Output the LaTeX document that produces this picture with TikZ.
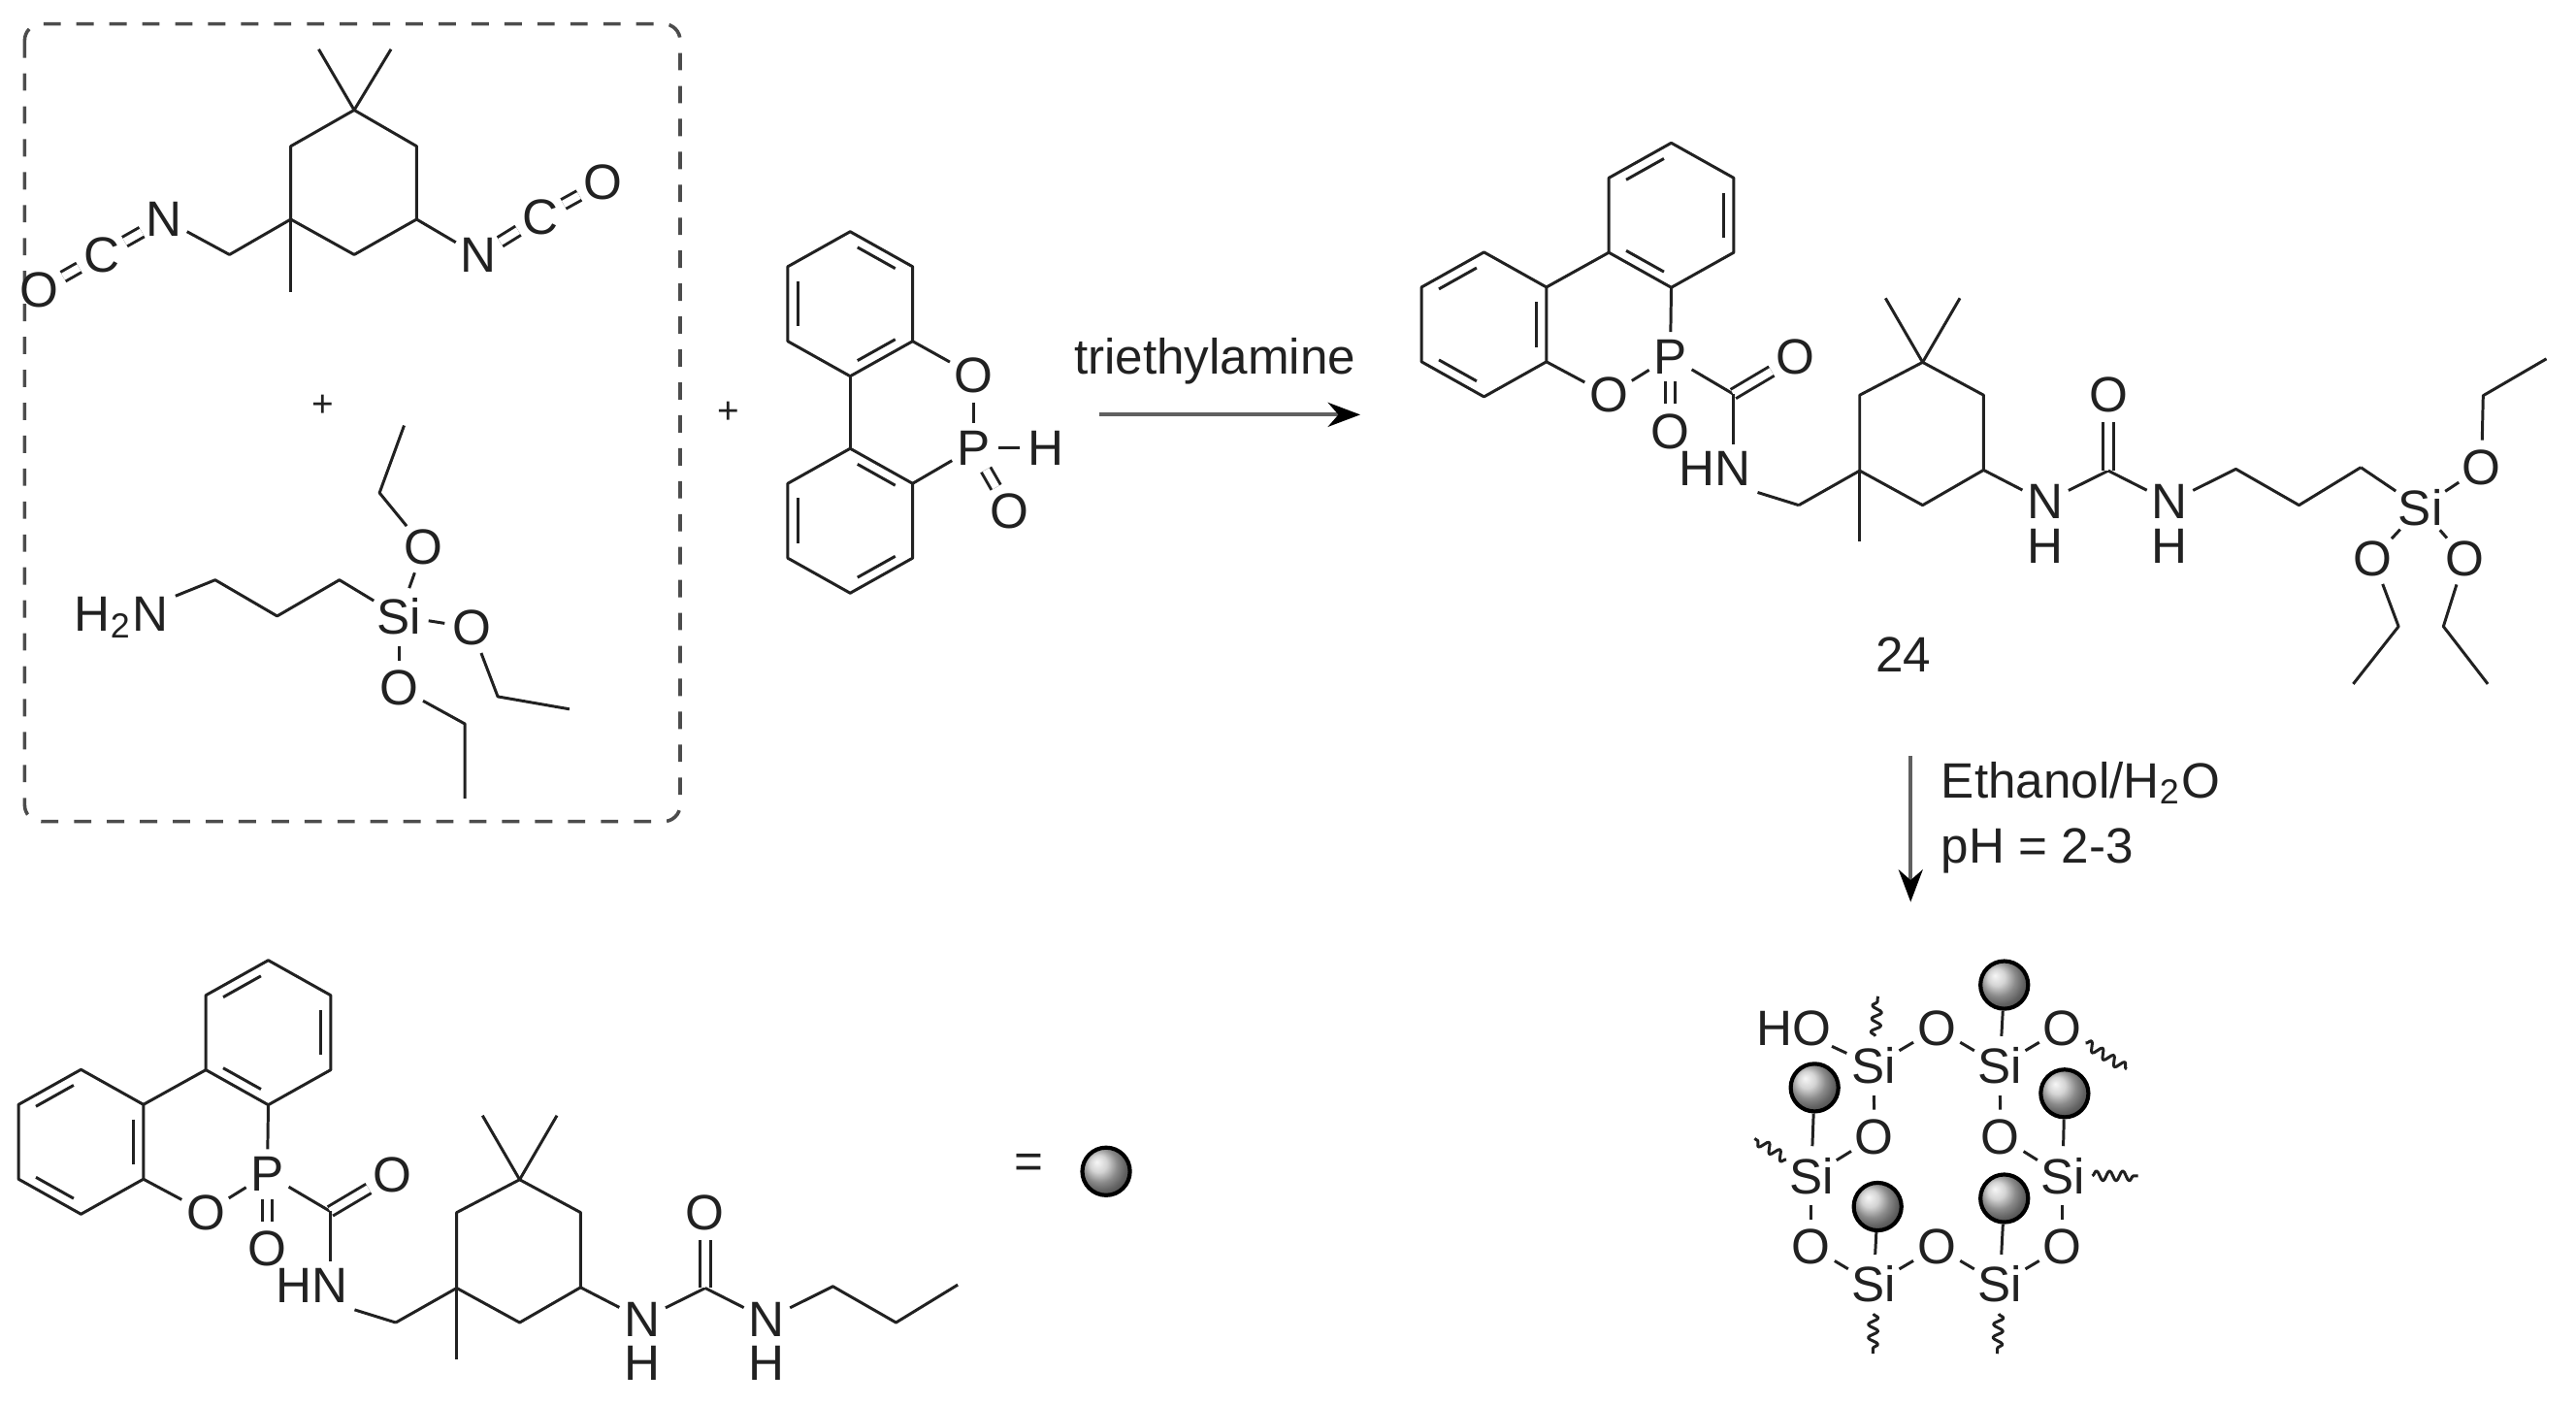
\documentclass[tikz,border=0pt]{standalone}
\usepackage{fontspec}
\setmainfont{Liberation Sans}
\usetikzlibrary{calc,arrows.meta,decorations.pathmorphing}
\definecolor{ink}{gray}{0.13}
\tikzset{
	bond/.style={draw=ink,line width=0.5pt,line join=round},
	dblbond/.style={bond,double=white,double distance=1.3pt},
	wavy/.style={bond,decorate,decoration={snake,amplitude=0.3mm,segment length=0.8mm}},
	atom/.style={circle,inner sep=0pt,text=ink,font=\fontsize{8.6pt}{10pt}\selectfont},
	label/.style={rectangle,inner sep=1pt,text=ink,font=\fontsize{8.6pt}{10pt}\selectfont},
	plus/.style={rectangle,inner sep=0pt,text=ink,font=\fontsize{6.5pt}{8pt}\selectfont},
	sphere/.style={circle,draw=black,line width=0.7pt,inner sep=0pt,minimum size=0.29cm,shading=ball,ball color=gray!45},
	rxn/.style={draw=gray!75!black,line width=0.65pt,-{Stealth[length=5.6pt,width=4.2pt,black]}}
}
\newcommand{\benzring}[2]{
	\begin{scope}[shift={(#2)}]
		\coordinate (#1) at (0,0);
		\coordinate (#1-1) at (0,-44);
		\coordinate (#1-2) at (38,-22.7);
		\coordinate (#1-3) at (38,22.7);
		\coordinate (#1-4) at (0,44);
		\coordinate (#1-5) at (-38,22.7);
		\coordinate (#1-6) at (-38,-22.7);
	\end{scope}
	\draw[bond] (#1-1) -- (#1-2) -- (#1-3) -- (#1-4) -- (#1-5) -- (#1-6) -- cycle;
}
\newcommand{\innerbond}[3]{
	\draw[bond] ($(#1-#2)!.14!(#1-#3)!.16!(#1)$) -- ($(#1-#3)!.14!(#1-#2)!.16!(#1)$);
}
\newcommand{\hybridunit}{
	\benzring{ra}{163.3,628.5}
	\benzring{rb}{49.3,695}
	\innerbond{ra}{1}{6}
	\innerbond{ra}{2}{3}
	\innerbond{ra}{4}{5}
	\innerbond{rb}{1}{6}
	\innerbond{rb}{2}{3}
	\innerbond{rb}{4}{5}
	\node[atom] (p) at (162.7,714.7) {P};
	\node[atom] (oa) at (125.2,738) {O};
	\node[atom] (ob) at (162.7,760) {O};
	\node[atom] (oc) at (238.6,715) {O};
	\node[label] (hn) at (189.8,782.6) {HN};
	\coordinate (ca) at (201,737.3);
	\coordinate (ch) at (240.9,805);
	\coordinate (q) at (278,784);
	\coordinate (s1) at (278,738);
	\coordinate (s2) at (316.3,718);
	\coordinate (s3) at (353.4,738);
	\coordinate (s4) at (353.4,783.6);
	\coordinate (s5) at (316.3,805);
	\coordinate (me1) at (293.7,679);
	\coordinate (me2) at (339,679);
	\coordinate (me3) at (278,827.3);
	\node[atom] (n1) at (391,803) {N};
	\node[atom] (h1) at (391,830) {H};
	\coordinate (cu) at (429.3,784);
	\node[atom] (ou) at (429.3,738) {O};
	\node[atom] (n2) at (466.8,803) {N};
	\node[atom] (h2) at (466.8,830) {H};
	\coordinate (c1) at (507,783);
	\coordinate (c2) at (545.4,805);
	\coordinate (c3) at (583,782);
	\draw[bond] (ra-5) -- (rb-2);
	\draw[bond] (ra-4) -- (p);
	\draw[bond] (rb-3) -- (oa);
	\draw[bond] (oa) -- (p);
	\draw[dblbond] (p) -- (ob);
	\draw[bond] (p) -- (ca);
	\draw[dblbond] (ca) -- (oc);
	\draw[bond] (ca) -- (ca |- hn.north);
	\draw[bond] (hn.south east) -- (ch);
	\draw[bond] (ch) -- (q) -- (s1) -- (s2) -- (s3) -- (s4) -- (s5) -- (q);
	\draw[bond] (q) -- (me3);
	\draw[bond] (s2) -- (me1);
	\draw[bond] (s2) -- (me2);
	\draw[bond] (s4) -- (n1);
	\draw[bond] (n1) -- (cu);
	\draw[dblbond] (cu) -- (ou);
	\draw[bond] (cu) -- (n2);
	\draw[bond] (n2) -- (c1) -- (c2) -- (c3);
}
\begin{document}
\begin{tikzpicture}[x=0.01cm,y=-0.01cm]
	\useasboundingbox (0,0) rectangle (1568,855);
	\draw[draw=black!70,line width=0.6pt,dash pattern=on 3pt off 2.7pt,rounded corners=0.1cm] (15,14.6) rectangle (414,500);
	% isocyanate
	\coordinate (i1) at (215.6,67);
	\coordinate (i2) at (253.6,89);
	\coordinate (i3) at (253.6,133.5);
	\coordinate (i4) at (215.6,155);
	\coordinate (i5) at (177,133.5);
	\coordinate (i6) at (177,89);
	\coordinate (ime1) at (194,30);
	\coordinate (ime2) at (238,30);
	\coordinate (ime3) at (177,178);
	\coordinate (ich) at (139.7,155);
	\node[atom] (in1) at (100,133.5) {N};
	\node[atom] (ic1) at (62,155) {C};
	\node[atom] (io1) at (24,176.6) {O};
	\node[atom] (in2) at (291,155.5) {N};
	\node[atom] (ic2) at (329,132) {C};
	\node[atom] (io2) at (367,111) {O};
	\draw[bond] (i1) -- (i2) -- (i3) -- (i4) -- (i5) -- (i6) -- cycle;
	\draw[bond] (i1) -- (ime1);
	\draw[bond] (i1) -- (ime2);
	\draw[bond] (i5) -- (ime3);
	\draw[bond] (i5) -- (ich) -- (in1);
	\draw[dblbond] (in1) -- (ic1);
	\draw[dblbond] (ic1) -- (io1);
	\draw[bond] (i3) -- (in2);
	\draw[dblbond] (in2) -- (ic2);
	\draw[dblbond] (ic2) -- (io2);
	\node[plus] (plusa) at (196.6,247) {+};
	% aminosilane
	\node[label] (nh) at (74,376) {H\textsubscript{2}N};
	\coordinate (a1) at (131,353);
	\coordinate (a2) at (168.7,375);
	\coordinate (a3) at (206.6,353);
	\node[atom] (asi) at (243,375) {Si};
	\node[atom] (ao1) at (258,333) {O};
	\coordinate (ae1) at (231,300);
	\coordinate (ae2) at (246,259);
	\node[atom] (ao2) at (287,382) {O};
	\coordinate (ae3) at (303,424);
	\coordinate (ae4) at (346.6,431.6);
	\node[atom] (ao3) at (243,418.6) {O};
	\coordinate (ae5) at (283,440.6);
	\coordinate (ae6) at (283,486);
	\draw[bond] (nh) -- (a1) -- (a2) -- (a3) -- (asi);
	\draw[bond] (asi) -- (ao1);
	\draw[bond] (ao1) -- (ae1) -- (ae2);
	\draw[bond] (asi) -- (ao2);
	\draw[bond] (ao2) -- (ae3) -- (ae4);
	\draw[bond] (asi) -- (ao3);
	\draw[bond] (ao3) -- (ae5) -- (ae6);
	\node[plus] (plusb) at (443.7,251.4) {+};
	% phosphinate
	\benzring{da}{517.5,185}
	\benzring{db}{517.5,317}
	\innerbond{da}{1}{2}
	\innerbond{da}{6}{5}
	\innerbond{da}{3}{4}
	\innerbond{db}{1}{2}
	\innerbond{db}{6}{5}
	\innerbond{db}{3}{4}
	\node[atom] (do) at (592.6,228.4) {O};
	\node[atom] (dp) at (592.6,272.7) {P};
	\node[atom] (dh) at (636.5,272.7) {H};
	\node[atom] (do2) at (614.5,311) {O};
	\draw[bond] (da-4) -- (db-1);
	\draw[bond] (da-3) -- (do);
	\draw[bond] (do) -- (dp);
	\draw[bond] (db-2) -- (dp);
	\draw[bond] (dp) -- (dh);
	\draw[dblbond] (dp) -- (do2);
	\node[label] (tea) at (739.5,220) {triethylamine};
	\coordinate (ara) at (669,252.4);
	\coordinate (arb) at (828,252.4);
	\draw[rxn] (ara) -- (arb);
	% product
	\begin{scope}[shift={(854,-497.5)},name prefix=t-]
		\hybridunit
	\end{scope}
	\node[atom] (si) at (1473.3,309) {Si};
	\node[atom] (so1) at (1510.5,284.5) {O};
	\coordinate (se1) at (1511.5,240.8);
	\coordinate (se2) at (1550,218.4);
	\node[atom] (so2) at (1444.5,340) {O};
	\coordinate (se3) at (1460,381.3);
	\coordinate (se4) at (1432.4,416.3);
	\node[atom] (so3) at (1500.3,340) {O};
	\coordinate (se5) at (1487.3,381.3);
	\coordinate (se6) at (1514.3,416.3);
	\draw[bond] (t-c3) -- (si);
	\draw[bond] (si) -- (so1);
	\draw[bond] (so1) -- (se1) -- (se2);
	\draw[bond] (si) -- (so2);
	\draw[bond] (so2) -- (se3) -- (se4);
	\draw[bond] (si) -- (so3);
	\draw[bond] (so3) -- (se5) -- (se6);
	\node[label] (num) at (1158.5,398.5) {24};
	\coordinate (arc) at (1163,460);
	\coordinate (ard) at (1163,549);
	\draw[rxn] (arc) -- (ard);
	\node[label,anchor=west,inner sep=0pt] (cond1) at (1181,476.5) {Ethanol/H\textsubscript{2}O};
	\node[label,anchor=west,inner sep=0pt] (cond2) at (1181,518) {pH = 2-3};
	% network
	\node[atom] (ho) at (1091.7,626) {HO};
	\node[atom] (x1) at (1140.5,648.7) {Si};
	\node[atom] (xo1) at (1178.9,626) {O};
	\node[atom] (x2) at (1217.3,648.7) {Si};
	\node[atom] (xo2) at (1255.5,626) {O};
	\node[atom] (xo3) at (1140.9,692) {O};
	\node[atom] (xo4) at (1217.7,692) {O};
	\node[atom] (x3) at (1102.5,715.7) {Si};
	\node[atom] (x4) at (1255.5,715.7) {Si};
	\node[atom] (xo5) at (1102.5,759) {O};
	\node[atom] (xo6) at (1178.9,759) {O};
	\node[atom] (xo7) at (1255.5,759) {O};
	\node[atom] (x5) at (1140.5,781.6) {Si};
	\node[atom] (x6) at (1217.3,781.6) {Si};
	\node[sphere] (b2) at (1220,599.5) {};
	\node[sphere] (b3) at (1104.5,662) {};
	\node[sphere] (b4) at (1256.7,665.5) {};
	\node[sphere] (b5) at (1142.9,734.4) {};
	\node[sphere] (b6) at (1220,729.4) {};
	\coordinate (w1) at (1143,606.4);
	\coordinate (w2) at (1294.5,650.7);
	\coordinate (w3) at (1068,693);
	\coordinate (w4) at (1301.4,715.7);
	\coordinate (w5) at (1140,824);
	\coordinate (w6) at (1215.7,824);
	\draw[bond] (ho) -- (x1);
	\draw[bond] (x1) -- (xo1);
	\draw[bond] (xo1) -- (x2);
	\draw[bond] (x2) -- (xo2);
	\draw[bond] (x1) -- (xo3);
	\draw[bond] (xo3) -- (x3);
	\draw[bond] (x3) -- (xo5);
	\draw[bond] (xo5) -- (x5);
	\draw[bond] (x5) -- (xo6);
	\draw[bond] (xo6) -- (x6);
	\draw[bond] (x6) -- (xo7);
	\draw[bond] (xo7) -- (x4);
	\draw[bond] (x4) -- (xo4);
	\draw[bond] (xo4) -- (x2);
	\draw[bond] (b2) -- (x2);
	\draw[bond] (b3) -- (x3);
	\draw[bond] (b4) -- (x4);
	\draw[bond] (b5) -- (x5);
	\draw[bond] (b6) -- (x6);
	\draw[wavy] (x1) -- (w1);
	\draw[wavy] (xo2) -- (w2);
	\draw[wavy] (x3) -- (w3);
	\draw[wavy] (x4) -- (w4);
	\draw[wavy] (x5) -- (w5);
	\draw[wavy] (x6) -- (w6);
	% legend
	\begin{scope}[name prefix=u-]
		\hybridunit
	\end{scope}
	\node[atom] (eq) at (626,710) {=};
	\node[sphere] (ballkey) at (673.3,713) {};
\end{tikzpicture}
\end{document}
